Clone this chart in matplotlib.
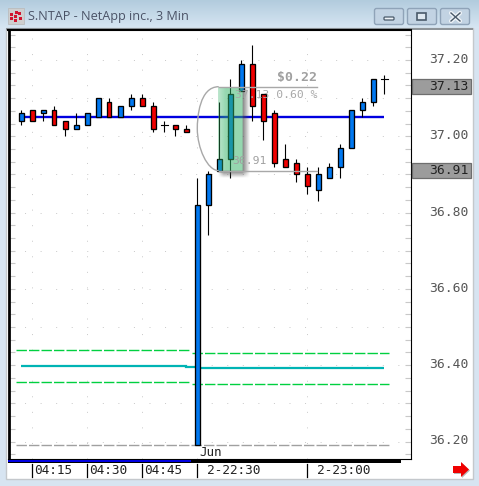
import numpy as np
import matplotlib
matplotlib.use("Agg")
import matplotlib.pyplot as plt
from matplotlib.patches import Rectangle, FancyBboxPatch, Polygon
from matplotlib.path import Path
from matplotlib.patches import PathPatch
from matplotlib.ticker import FixedLocator
from matplotlib.transforms import blended_transform_factory, ScaledTranslation

# ---------- data ----------
highs = [37.07,37.07,37.07,37.08,37.04,37.06,37.06,37.10,37.10,37.08,37.11,37.11,37.09,37.04,37.03,37.03,
         36.89,36.91,37.09,37.15,37.20,37.24,37.11,37.07,36.98,36.94,36.92,36.92,36.93,36.98,37.07,37.10,37.15,37.16]
body_tops = [37.06,37.07,37.07,37.07,37.04,37.03,37.06,37.10,37.09,37.08,37.10,37.10,37.08,37.03,37.03,37.02,
             36.82,36.90,36.94,37.11,37.19,37.19,37.11,37.06,36.94,36.93,36.90,36.90,36.92,36.97,37.07,37.09,37.15,37.15]
body_bots = [37.04,37.04,37.06,37.03,37.02,37.02,37.03,37.05,37.05,37.05,37.08,37.08,37.02,37.03,37.02,37.01,
             36.19,36.82,36.91,36.94,37.12,37.08,37.04,36.93,36.92,36.90,36.87,36.86,36.89,36.92,36.97,37.07,37.09,37.15]
lows = [37.03,37.04,37.04,37.03,37.00,37.02,37.03,37.05,37.05,37.05,37.07,37.08,37.01,37.01,37.00,37.02,
        36.19,36.74,36.91,36.89,37.12,37.04,36.99,36.92,36.92,36.88,36.85,36.83,36.89,36.89,36.97,37.05,37.08,37.11]
up_bar = [1,0,1,0,0,1,1,1,0,1,1,0,0,2,0,0,1,1,1,1,1,0,0,0,0,0,0,1,1,1,1,1,1,2]
pivot_price = 37.05
cyan_x = [0, 15, 15, 16, 16, 33]
cyan_y = [36.398, 36.398, 36.395, 36.395, 36.392, 36.392]
band_upper = [36.441, 36.433]
band_lower = [36.355, 36.350]
floor_price = 36.19
hi_price, lo_price = 37.13, 36.91
y_labels = [37.20, 37.00, 36.80, 36.60, 36.40, 36.20]
time_labels = ["04:15", "04:30", "04:45", "2-22:30", "2-23:00"]
time_idx = [1, 6, 11, 16, 26]
title = "S.NTAP - NetApp inc., 3 Min"

W, H = 479, 486
fig = plt.figure(figsize=(W/100, H/100), dpi=100)
MONO = "DejaVu Sans Mono"

# ---------- window chrome ----------
bg = fig.add_axes([0, 0, 1, 1], zorder=0)
bg.set_xlim(0, W); bg.set_ylim(H, 0); bg.axis("off")
grad = np.linspace(0, 1, 30)[:, None]
c0, c1 = np.array([0.70, 0.80, 0.87]), np.array([0.84, 0.90, 0.95])
bg.imshow(c0 + (c1 - c0) * grad[:, :, None], extent=[0, W, 28, 0], aspect="auto", zorder=0)
bg.add_patch(Rectangle((0, 28), W, H-28, fc="#d7e4f1", ec="none", zorder=0))
bg.add_patch(Rectangle((6, 28), 467, 451, fc="white", ec="#c4c8cc", lw=1, zorder=1))
bg.add_patch(Rectangle((6, 28), 467, 2, fc="#8e9499", ec="none", zorder=1))
bg.set_xlim(0, W); bg.set_ylim(H, 0)

# icon
bg.add_patch(Rectangle((8, 8), 16, 16, fc="#cfcfcf", ec="#b8b8b8", lw=.5, zorder=2))
for (ix, iy) in [(10,13),(10,17),(14,15),(14,19),(18,12),(19,17),(15,11)]:
    bg.add_patch(Rectangle((ix, iy), 3.2, 3, fc="#d0152f", ec="none", zorder=3))
bg.text(28, 16.5, title, fontsize=9.1, family="Open Sans", color="#4a5266", va="center", ha="left", zorder=3)

# caption buttons
for bx in (34.5, 67.5, 100.5):
    bg.add_patch(FancyBboxPatch((340+bx, 8.5), 29, 16, boxstyle="round,pad=0,rounding_size=2",
                                fc="#c2d3e3", ec="#8fa3b8", lw=1, zorder=2))
bg.add_patch(FancyBboxPatch((384, 17), 10, 3, boxstyle="round,pad=0,rounding_size=1", fc="#eef3f8", ec="#4a5a6a", lw=.9, zorder=3))
bg.add_patch(Rectangle((417.5, 13.5), 9, 7, fc="#dfe8f0", ec="#4a5a6a", lw=1.2, zorder=3))
bg.plot([451, 460], [13, 21], color="#eef3f8", lw=3, zorder=3, solid_capstyle="round")
bg.plot([451, 460], [21, 13], color="#eef3f8", lw=3, zorder=3, solid_capstyle="round")
bg.plot([451, 460], [13, 21], color="#4a5a6a", lw=1, zorder=4)
bg.plot([451, 460], [21, 13], color="#4a5a6a", lw=1, zorder=4)

# ---------- main axes ----------
AX_L, AX_R, AX_T, AX_B = 8.5, 411, 30.5, 459
PX_PER = 381.5
ax = fig.add_axes([AX_L/W, 1-AX_B/H, (AX_R-AX_L)/W, (AX_B-AX_T)/H], zorder=1)
X0, DX = 21.3, 11.0
ax.set_xlim((AX_L-X0)/DX, (AX_R-X0)/DX)
ax.set_ylim(37.2-(AX_B-60)/PX_PER, 37.2+(60-AX_T)/PX_PER)
n = len(highs)
idx = np.arange(n)

# grid
for v in np.arange(36.2, 37.25, 0.1):
    ax.axhline(v, color="#c8c8c8", lw=.7, ls=(0, (1, 15)), zorder=1)
for i in time_idx:
    ax.axvline(i, color="#c8c8c8", lw=.7, ls=(0, (1, 15)), zorder=1)

# indicator lines
ax.plot([0, 33], [pivot_price]*2, color="#0000e0", lw=1.7, zorder=3, solid_capstyle="butt")
ax.plot(cyan_x, cyan_y, color="#00b4b4", lw=1.6, zorder=3, solid_capstyle="butt", solid_joinstyle="miter")
dash = (0, (7.5, 1.5))
for i_vals in (band_upper, band_lower):
    ax.plot([-0.5, 15.45], [i_vals[0]]*2, color="#00d040", lw=1.0, ls=dash, zorder=2)
    ax.plot([15.55, 33.45], [i_vals[1]]*2, color="#00d040", lw=1.0, ls=dash, zorder=2)
ax.plot([-0.5, 33.45], [floor_price]*2, color="#a0a0a0", lw=1.0, ls=dash, zorder=2)

# candles
colors = {1: "#0078f0", 0: "#f00000"}
for i in idx:
    ax.plot([i, i], [lows[i], highs[i]], color="black", lw=.8, zorder=4, solid_capstyle="butt")
    if up_bar[i] == 2:
        ax.plot([i-.32, i+.32], [body_tops[i]]*2, color="black", lw=.8, zorder=4)
    else:
        ax.add_patch(Rectangle((i-.2, body_bots[i]), .4, body_tops[i]-body_bots[i],
                               fc=colors[up_bar[i]], ec="black", lw=.95, zorder=5))

# highlight with drop shadow, spanning bars 18-20
hx0, hx1 = 18 - 0.14, 20 + 0.06
pad_x, pad_y = 0.65, 0.018
nx, ny = 160, 240
xs = np.linspace(hx0, hx1 + pad_x, nx)
ys = np.linspace(lo_price - pad_y, hi_price, ny)
XX, YY = np.meshgrid(xs, ys)
dxr = np.clip((XX - hx1) / pad_x, 0, None)
dyb = np.clip((lo_price - YY) / pad_y, 0, None)
shadow = np.clip(1 - dxr, 0, 1) * np.clip(1 - dyb, 0, 1)
shadow *= np.clip((XX-hx0)/0.5, 0, 1) * np.clip((hi_price-YY)/0.012, 0, 1)
inside = (dxr == 0) & (dyb == 0)
rgba = np.zeros((ny, nx, 4))
rgba[..., :3] = 0.3
rgba[..., 3] = shadow * 0.7
edge = np.clip((XX-hx0)/0.7, 0, 1)
rgba[inside, 0] = 0.2; rgba[inside, 1] = 0.7; rgba[inside, 2] = 0.4
rgba[..., 3][inside] = (0.32 + 0.2*edge)[inside]
xl, yl = ax.get_xlim(), ax.get_ylim()
ax.imshow(rgba, extent=[xs[0], xs[-1], ys[0], ys[-1]], origin="lower", aspect="auto", zorder=6, interpolation="bilinear")
ax.set_xlim(xl); ax.set_ylim(yl)

# bracket
gray = "#a8a8a8"
ax.plot([17.95, 26.9], [hi_price]*2, color=gray, lw=1, zorder=7)
ax.plot([17.95, 26.9], [lo_price]*2, color=gray, lw=1, zorder=7)
mid = (hi_price+lo_price)/2
verts = [(17.95, hi_price), (16.2, hi_price), (16.0, mid+.03), (16.0, mid),
         (16.0, mid-.05), (16.9, lo_price), (17.95, lo_price)]
ax.add_patch(PathPatch(Path(verts, [Path.MOVETO]+[Path.CURVE4]*6), fc="none", ec=gray, lw=1, zorder=7))
ax.text(26.9, 37.153, "$0.22", fontsize=9.5, fontweight="bold", color="#a0a0a0", family=MONO, ha="right", va="center", zorder=8)
ax.text(26.9, 37.109, f"{hi_price:.2f} 0.60 %", fontsize=8.2, color="#a8a8a8", family=MONO, ha="right", va="center", zorder=8)
ax.text(19.2, 36.935, f"{lo_price:.2f}", fontsize=8.2, color="#a0a0a0", family=MONO, ha="left", va="center", zorder=8)
ax.text(16.2, 36.172, "Jun", fontsize=9, color="#222222", family=MONO, ha="left", va="center", zorder=8)

# axes / ticks
for s in ax.spines.values():
    s.set_color("black"); s.set_linewidth(.8)
ax.spines["left"].set_linewidth(2); ax.spines["top"].set_linewidth(1.5)
ax.set_xticks([])
ax.yaxis.set_major_locator(FixedLocator(y_labels))
ax.set_yticklabels([f"{v:.2f}" for v in y_labels], family=MONO, fontsize=9.4, color="#555555")
ax.yaxis.set_minor_locator(FixedLocator(np.arange(36.2-1/30, 37.28, 1/30)))
ax.tick_params(axis="y", which="both", direction="in", left=True, right=True, labelleft=False,
               labelright=True, color="#c8c8c8", length=4, width=.8, pad=13)
up = ScaledTranslation(0, 1.5/72, fig.dpi_scale_trans)
for lab in ax.get_yticklabels():
    lab.set_transform(lab.get_transform() + up)

# price tags at the right
tr = blended_transform_factory(fig.transFigure, ax.transData)
for p in (hi_price, lo_price):
    ax.add_patch(Rectangle((412/W, p-.0195), 59/W, .039, transform=tr, clip_on=False,
                           fc="#9c9c9c", ec="#6e6e6e", lw=.9, zorder=9))
    ax.text(469/W, p, f"{p:.2f}", transform=tr, family=MONO, fontsize=9.4, color="#222222",
            ha="right", va="center", zorder=10, clip_on=False)

# ---------- time axis ----------
fg = fig.add_axes([0, 0, 1, 1], zorder=2)
fg.set_xlim(0, W); fg.set_ylim(H, 0); fg.axis("off"); fg.patch.set_alpha(0)
fg.add_patch(Rectangle((8, 459), 393, 3.5, fc="black", ec="none"))
fg.add_patch(Rectangle((8, 459.5), 183, 2.5, fc="#0000e0", ec="none"))
for i, lab in zip(time_idx, time_labels):
    px = X0 + DX*i
    fg.plot([px, px], [464, 476.5], color="black", lw=.9)
    off = 2 if "-" not in lab else 10
    fg.text(px + off, 470.5, lab, family=MONO, fontsize=9.2, color="#222222", ha="left", va="center")
fg.add_patch(Polygon([(454, 467), (462, 467), (462, 463), (470, 470.5), (462, 478), (462, 474), (454, 474)],
                     fc="#888888", ec="none", alpha=.6))
fg.add_patch(Polygon([(453, 466), (461, 466), (461, 462), (469, 469.5), (461, 477), (461, 473), (453, 473)],
                     fc="#f00000", ec="none"))
fg.set_xlim(0, W); fg.set_ylim(H, 0)

fig.savefig("out.png", dpi=100)
